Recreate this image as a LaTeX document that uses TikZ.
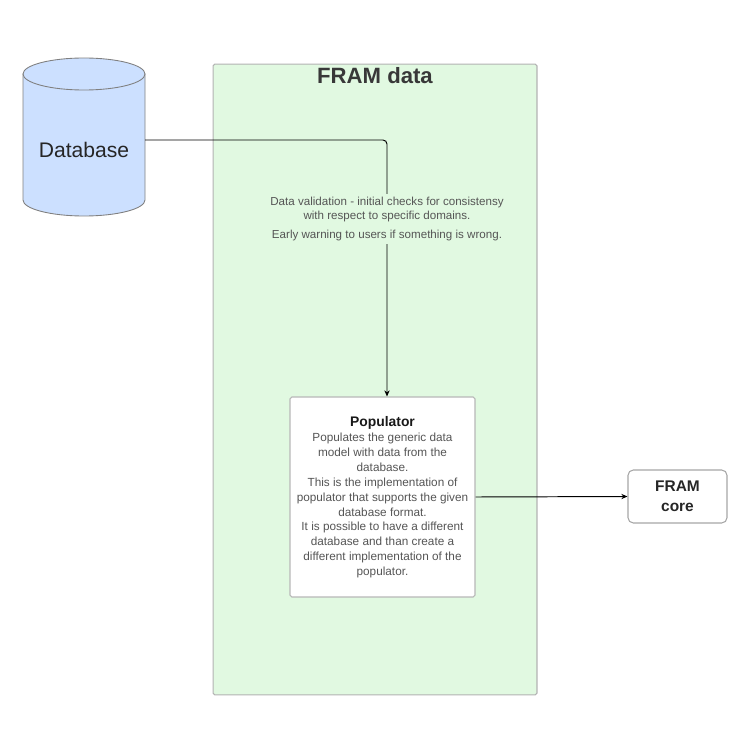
\documentclass[tikz,border=0pt]{standalone}
\usepackage{fontspec}
\setmainfont{Liberation Sans}
\usepackage{tikz}
\usetikzlibrary{arrows.meta}

\definecolor{framgreen}{HTML}{E1F9E1}
\definecolor{dbblue}{HTML}{CCE0FF}
\definecolor{txtgray}{HTML}{555555}
\definecolor{titlegray}{HTML}{383838}

\tikzset{
  conn/.style={line width=0.55pt, -{Stealth[length=3.5pt,width=3pt]}},
  body/.style={font=\fontsize{6.6}{7.9}\selectfont, text=txtgray, align=center},
}

\begin{document}
\begin{tikzpicture}[x=0.02cm, y=-0.02cm]
\useasboundingbox (0,0) rectangle (747,733);

% container
\node[draw=black!30, fill=framgreen, rounded corners=1pt, line width=0.6pt,
      minimum width=6.48cm, minimum height=12.62cm] (framdata) at (375,379.5) {};
\node[font=\fontsize{12.6}{14}\selectfont\bfseries, text=titlegray] (framtitle) at (375,76) {FRAM data};

% database
\filldraw[fill=dbblue, draw=black!50, line width=0.5pt] (23,74) -- (23,200)
  .. controls (23,208.8) and (50.3,216) .. (84,216)
  .. controls (117.7,216) and (145,208.8) .. (145,200) -- (145,74) -- cycle;
\filldraw[fill=dbblue, draw=black!50, line width=0.5pt] (84,74) ellipse [x radius=61, y radius=16];
\node[font=\fontsize{12}{14}\selectfont, text=black!85] (db) at (84,150) {Database};
\coordinate (dbport) at (145,140);

% populator
\node[draw=black!28, fill=white, rounded corners=1pt, line width=0.6pt,
      minimum width=3.7cm, minimum height=4cm, body, font=\fontsize{6.7}{8.45}\selectfont]
      (pop) at (382.5,497)
  {{\fontsize{7.9}{9}\selectfont\bfseries\color{black!90}Populator}\\[0.5pt]
   Populates the generic data\\ model with data from the\\ database.\\
   This is the implementation of\\ populator that supports the given\\ database format.\\
   It is possible to have a different\\ database and than create a\\
   different implementation of the\\ populator.};

% core
\node[draw=black!35, fill=white, rounded corners=3pt, line width=0.6pt,
      minimum width=1.98cm, minimum height=1.06cm, align=center,
      font=\fontsize{8.8}{11.3}\selectfont\bfseries, text=black!85] (core) at (677.5,496.5)
  {FRAM\\ core};

\draw[conn, rounded corners=2.3pt] (dbport) -| ([xshift=0.09cm]pop.north);
\draw[conn] (pop.east) -- (core.west);

\node[body, fill=framgreen, inner sep=2pt] (check) at (387,219)
  {Data validation - initial checks for consistensy\\ with respect to specific domains.\\[3pt]
   Early warning to users if something is wrong.};
\end{tikzpicture}
\end{document}
